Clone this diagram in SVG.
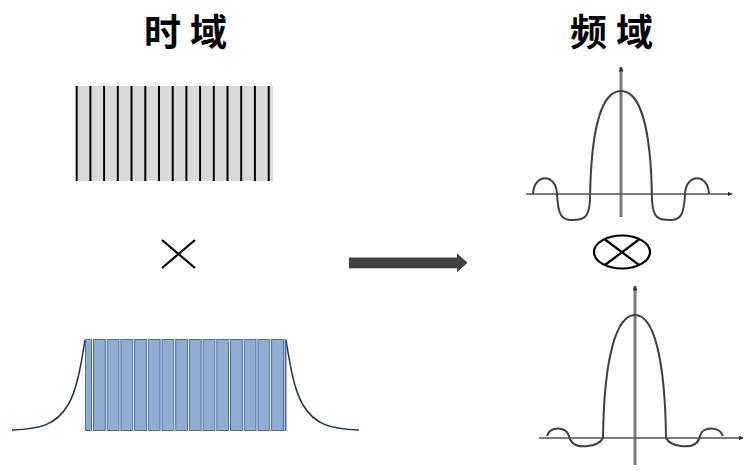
<svg xmlns="http://www.w3.org/2000/svg" width="756" height="471" viewBox="0 0 756 471">
<style>
.title{font-family:"Noto Sans CJK SC","Noto Sans CJK JP",sans-serif;font-weight:bold;font-size:37px;letter-spacing:9px;fill:#000}
.comb{stroke:#000;stroke-width:2}
.bar{fill:#92abd0;stroke:#4f6f9f;stroke-width:1}
.tail{fill:none;stroke:#1f3050;stroke-width:1.5}
.vaxis{stroke:#7a7a7a;stroke-width:3}
.haxis{stroke:#505050;stroke-width:1.3}
.curve{fill:none;stroke:#404040;stroke-width:2}
.mark{stroke:#000;stroke-width:2.2;fill:none}
</style>
<defs>
<marker id="ah" viewBox="0 0 10 10" refX="9" refY="5" markerWidth="5" markerHeight="5" markerUnits="userSpaceOnUse" orient="auto">
<path d="M0,0 L10,5 L0,10 z" fill="#303030"/>
</marker>
</defs>
<rect width="756" height="471" fill="#fff"/>
<g id="title-time"><text class="title" x="144" y="46">时域</text></g>
<g id="title-freq"><text class="title" x="570" y="46">频域</text></g>
<g id="comb">
<rect x="76" y="86" width="197" height="95" fill="#d9d9d9"/>
<g class="comb">
<line x1="76.7" y1="86" x2="76.7" y2="181"/>
<line x1="90.4" y1="86" x2="90.4" y2="181"/>
<line x1="104.1" y1="86" x2="104.1" y2="181"/>
<line x1="117.8" y1="86" x2="117.8" y2="181"/>
<line x1="131.5" y1="86" x2="131.5" y2="181"/>
<line x1="145.3" y1="86" x2="145.3" y2="181"/>
<line x1="159" y1="86" x2="159" y2="181"/>
<line x1="172.7" y1="86" x2="172.7" y2="181"/>
<line x1="186.4" y1="86" x2="186.4" y2="181"/>
<line x1="200.1" y1="86" x2="200.1" y2="181"/>
<line x1="213.8" y1="86" x2="213.8" y2="181"/>
<line x1="227.5" y1="86" x2="227.5" y2="181"/>
<line x1="241.2" y1="86" x2="241.2" y2="181"/>
<line x1="254.9" y1="86" x2="254.9" y2="181"/>
<line x1="268.7" y1="86" x2="268.7" y2="181"/>
</g>
</g>
<g id="times"><path class="mark" d="M162,240 L195,268 M195,240 L162,268"/></g>
<g id="windowed">
<path class="tail" d="M12,430 C40,429 56,425 68,405 C77,390 81,365 85,340"/>
<path class="tail" d="M286,340 C290,365 294,390 303,405 C315,425 331,429 359,430"/>
<rect class="bar" x="85.5" y="339.5" width="6" height="91"/>
<rect class="bar" x="93.5" y="339.5" width="11.8" height="91"/>
<rect class="bar" x="107.2" y="339.5" width="11.8" height="91"/>
<rect class="bar" x="120.9" y="339.5" width="11.8" height="91"/>
<rect class="bar" x="134.6" y="339.5" width="11.8" height="91"/>
<rect class="bar" x="148.3" y="339.5" width="11.8" height="91"/>
<rect class="bar" x="162" y="339.5" width="11.8" height="91"/>
<rect class="bar" x="175.7" y="339.5" width="11.8" height="91"/>
<rect class="bar" x="189.4" y="339.5" width="11.8" height="91"/>
<rect class="bar" x="203.1" y="339.5" width="11.8" height="91"/>
<rect class="bar" x="216.8" y="339.5" width="11.8" height="91"/>
<rect class="bar" x="230.5" y="339.5" width="11.8" height="91"/>
<rect class="bar" x="244.2" y="339.5" width="11.8" height="91"/>
<rect class="bar" x="257.9" y="339.5" width="11.8" height="91"/>
<rect class="bar" x="271.6" y="339.5" width="11.8" height="91"/>
<rect class="bar" x="285" y="339.5" width="1" height="91"/>
</g>
<g id="connectors">
<polygon points="349,257.5 457,257.5 457,253.3 467.5,262.8 457,272.3 457,268.3 349,268.3" fill="#404040"/>
</g>
<g id="spectrum-top">
<line class="vaxis" x1="621" y1="217" x2="621" y2="67" marker-end="url(#ah)"/>
<line class="haxis" x1="526" y1="194" x2="732" y2="194" marker-end="url(#ah)"/>
<path class="curve" d="M533,194 C534,173 556,173 557,194 C558,216 562,220 572,220 C584,220 589,218 590,200 C591,120 604,91 621,91 C638,91 651,120 652,200 C653,218 658,220 670,220 C680,220 684,216 685,194 C686,173 708,173 709,194"/>
</g>
<g id="convolve">
<ellipse class="mark" cx="622" cy="252" rx="28" ry="16.5" stroke-width="2.6"/>
<path class="mark" d="M605,239.5 L639,265 M639,239.5 L605,265" stroke-width="1.8"/>
</g>
<g id="spectrum-bottom">
<line class="vaxis" x1="635" y1="465" x2="635" y2="286" marker-end="url(#ah)"/>
<line class="haxis" x1="539" y1="438" x2="743" y2="438" marker-end="url(#ah)"/>
<path class="curve" d="M547,436 C549,426 567,426 569,436 C571,446 580,447 588,446 C596,445 601,442 603,438 C604,355 617,315 635,315 C653,315 665,355 666,438 C668,442 673,445 681,446 C689,447 698,446 700,436 C702,426 720,426 723,436"/>
</g>
</svg>
